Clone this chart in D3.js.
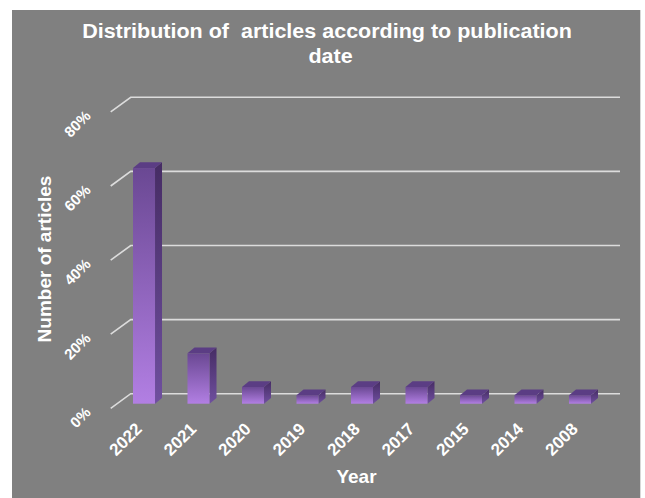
<!DOCTYPE html>
<html>
<head>
<meta charset="utf-8">
<script src="https://cdn.jsdelivr.net/npm/d3@7"></script>
<style>
  html, body { margin: 0; padding: 0; background: #ffffff; }
  svg { display: block; }
  text { font-family: "Liberation Sans", Arial, sans-serif; fill: #ffffff; }
</style>
</head>
<body>
<svg id="chart" width="645" height="498"></svg>
<script>
// ---- data ----
const years = ["2022", "2021", "2020", "2019", "2018", "2017", "2015", "2014", "2008"];
const shares = [63.6, 13.6, 4.5, 2.3, 4.5, 4.5, 2.3, 2.3, 2.3];
const yTicks = [0, 20, 40, 60, 80];
const titleLines = ["Distribution of  articles according to publication", "date"];
const xTitle = "Year";
const yTitle = "Number of articles";

const svg = d3.select("#chart");

// background panel
svg.append("rect").attr("x", 12).attr("y", 10).attr("width", 628).attr("height", 488).attr("fill", "#808080");
svg.append("line").attr("x1", 640.5).attr("x2", 640.5).attr("y1", 10).attr("y2", 498)
  .attr("stroke", "#d8d8d8").attr("stroke-width", 1);

// 3D geometry
const wallX = 130.7;
const floorBackY = 393.7;
const depthDx = -20, depthDy = 14.6;
const gridRight = 620;

const y = d3.scaleLinear().domain([0, 80]).range([floorBackY, 97.3]);

// gradients
const defs = svg.append("defs");
const gFront = defs.append("linearGradient").attr("id", "gFront").attr("x1", 0).attr("y1", 0).attr("x2", 0).attr("y2", 1);
gFront.append("stop").attr("offset", "0%").attr("stop-color", "#6a4893");
gFront.append("stop").attr("offset", "100%").attr("stop-color", "#b27fe3");
const gSide = defs.append("linearGradient").attr("id", "gSide").attr("x1", 0).attr("y1", 0).attr("x2", 0).attr("y2", 1);
gSide.append("stop").attr("offset", "0%").attr("stop-color", "#462c64");
gSide.append("stop").attr("offset", "100%").attr("stop-color", "#6f4f9f");

// gridlines
const grid = svg.append("g");
yTicks.forEach(t => {
  const yy = y(t);
  grid.append("path")
    .attr("d", `M${wallX + depthDx},${yy + depthDy}L${wallX},${yy}L${gridRight},${yy}`)
    .attr("fill", "none").attr("stroke", "#dcdcdc").attr("stroke-width", 1.6);
});

// y tick labels
svg.append("g").selectAll("text").data(yTicks).join("text")
  .attr("transform", d => `translate(${wallX + depthDx - 19},${y(d) + depthDy + 5}) rotate(-45)`)
  .attr("text-anchor", "end")
  .attr("font-size", 15).attr("font-weight", "bold")
  .text(d => d + "%");

// bars
const x = d3.scaleBand().domain(years).range([116.65, 607.35]).paddingInner(0.596).paddingOuter(0.3);
const frontShift = 10;
const barDx = 7, barDy = -5.7;
const bars = svg.append("g");
years.forEach((yr, i) => {
  const v = shares[i];
  const x0 = x(yr), w = x.bandwidth();
  const yTop = y(v) + frontShift, yBot = y(0) + frontShift;
  bars.append("path")
    .attr("d", `M${x0 + w},${yTop}L${x0 + w + barDx},${yTop + barDy}L${x0 + w + barDx},${yBot + barDy}L${x0 + w},${yBot}Z`)
    .attr("fill", "url(#gSide)");
  bars.append("path")
    .attr("d", `M${x0},${yTop}L${x0 + barDx},${yTop + barDy}L${x0 + w + barDx},${yTop + barDy}L${x0 + w},${yTop}Z`)
    .attr("fill", "#5b3d84");
  bars.append("rect").attr("x", x0).attr("y", yTop).attr("width", w).attr("height", yBot - yTop)
    .attr("fill", "url(#gFront)");
});

// x tick labels
svg.append("g").selectAll("text").data(years).join("text")
  .attr("transform", d => `translate(${x(d) + x.bandwidth() / 2 - 1},${430}) rotate(-45)`)
  .attr("text-anchor", "end")
  .attr("font-size", 17).attr("font-weight", "bold")
  .text(d => d);

// axis titles
svg.append("text").attr("x", 356.5).attr("y", 483).attr("text-anchor", "middle")
  .attr("font-size", 19).attr("font-weight", "bold").text(xTitle);
svg.append("text").attr("transform", "translate(51,259) rotate(-90)").attr("text-anchor", "middle")
  .attr("font-size", 19).attr("font-weight", "bold").text(yTitle);

// chart title (horizontally condensed like a narrow face)
const t1 = svg.append("text").attr("text-anchor", "middle")
  .attr("font-size", 20.5).attr("font-weight", "bold")
  .style("white-space", "pre")
  .text(titleLines[0]);
const natural = t1.node().getComputedTextLength();
const sx = 490 / natural;
t1.attr("transform", `translate(327,37.5) scale(${sx},1)`);
svg.append("text").attr("text-anchor", "middle")
  .attr("font-size", 20.5).attr("font-weight", "bold")
  .attr("transform", `translate(330.5,63.3) scale(${sx},1)`)
  .text(titleLines[1]);
</script>
</body>
</html>
